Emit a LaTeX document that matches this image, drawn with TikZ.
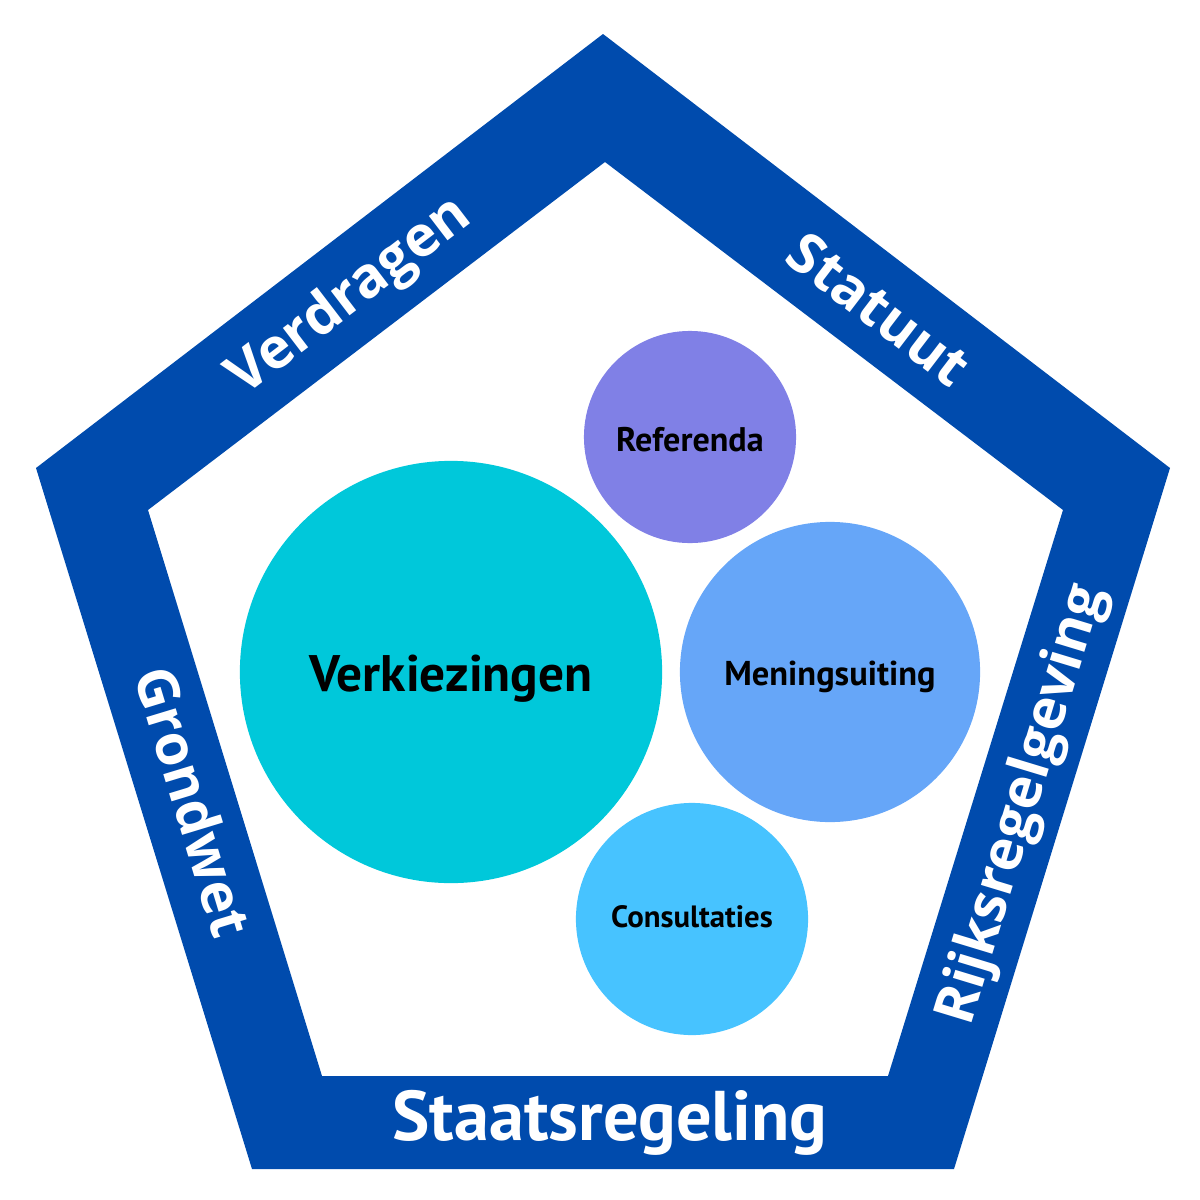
\documentclass[tikz,border=0pt]{standalone}
\usepackage{fontspec}
\setmainfont{PT Sans}
\newfontfamily\sidefont{Open Sans}
\usetikzlibrary{positioning}
\definecolor{rijksblauw}{RGB}{0,75,173}
\definecolor{verkcol}{RGB}{0,200,218}
\definecolor{refcol}{RGB}{128,128,230}
\definecolor{mencol}{RGB}{102,166,248}
\definecolor{concol}{RGB}{71,195,255}

\begin{document}
\begin{tikzpicture}[x=0.01cm,y=-0.01cm,
    bol/.style={circle,inner sep=0pt},
    sidelabel/.style={text=white,inner sep=0pt,anchor=base,font=\sidefont\bfseries\fontsize{16}{16}\selectfont}]
            \useasboundingbox (0,0) rectangle (1200,1200);
            % pentagon band
            \fill [rijksblauw,even odd rule] (603,34) -- (1170,468) -- (954,1169) -- (252,1169) -- (36,468) -- cycle
                (605,162) -- (1063,510) -- (888,1076) -- (322,1076) -- (148,510) -- cycle;

            \node [bol,fill=verkcol,minimum size=4.22cm] (Verk) at (451,672) {};
            \node [bol,fill=refcol,minimum size=2.12cm] (Ref) at (690,437) {};
            \node [bol,fill=mencol,minimum size=3cm] (Men) at (830,672) {};
            \node [bol,fill=concol,minimum size=2.32cm] (Con) at (692,919) {};

            \node [anchor=base,inner sep=0pt,font=\bfseries\fontsize{14.6}{16}\selectfont] (VerkTxt) at (451,691) {Verkiezingen};
            \node [anchor=base,inner sep=0pt,font=\bfseries\fontsize{9.7}{10}\selectfont] (RefTxt) at (690,451) {Referenda};
            \node [anchor=base,inner sep=0pt,font=\bfseries\fontsize{9.8}{10}\selectfont] (MenTxt) at (830,685) {Meningsuiting};
            \node [anchor=base,inner sep=0pt,font=\bfseries\fontsize{8.75}{9}\selectfont] (ConTxt) at (692,927) {Consultaties};

            \node [sidelabel,rotate=37.4] (Verdr) at (359,309) {Verdragen};
            \node [sidelabel,rotate=-37.4] (Stat) at (867,325) {Statuut};
            \node [sidelabel,rotate=73.1] (Rijks) at (1037,809) {Rijksregelgeving};
            \node [sidelabel,rotate=-73.1] (Grond) at (174,808) {Grondwet};
            \node [anchor=base,inner sep=0pt,text=white,font=\bfseries\fontsize{20}{21}\selectfont] (Staats) at (610,1140) {Staatsregeling};
        \end{tikzpicture}
\end{document}
